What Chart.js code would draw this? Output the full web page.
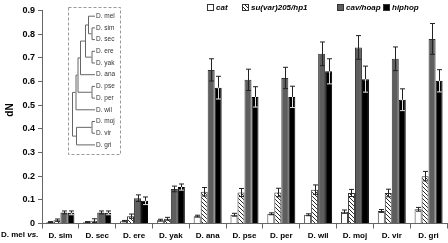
<!DOCTYPE html>
<html>
<head>
<meta charset="utf-8">
<script src="https://cdn.jsdelivr.net/npm/chart.js@4.4.1/dist/chart.umd.min.js"></script>
<style>
  html,body{margin:0;padding:0;background:#fff}
  #wrap{width:448px;height:243px;position:relative}
</style>
</head>
<body>
<div id="wrap"><canvas id="c" width="448" height="243"></canvas></div>
<script>
// dN por especie (comparación contra D. mel)
const species = ['D. sim','D. sec','D. ere','D. yak','D. ana','D. pse','D. per','D. wil','D. moj','D. vir','D. gri'];
const seriesNames = ['cat','su(var)205/hp1','cav/hoap','hiphop'];
const catVals    = [0.006,0.006,0.010,0.014,0.031,0.037,0.041,0.037,0.050,0.053,0.060];
const catErr     = [0.002,0.002,0.003,0.004,0.004,0.006,0.004,0.004,0.007,0.006,0.008];
const suvarVals  = [0.014,0.012,0.031,0.020,0.134,0.131,0.131,0.143,0.129,0.129,0.200];
const suvarErr   = [0.005,0.008,0.009,0.006,0.018,0.017,0.018,0.020,0.015,0.016,0.020];
const cavVals    = [0.047,0.047,0.107,0.146,0.649,0.607,0.615,0.717,0.744,0.696,0.780];
const cavErr     = [0.006,0.006,0.014,0.012,0.047,0.045,0.045,0.050,0.050,0.050,0.065];
const hiphopVals = [0.045,0.045,0.096,0.154,0.574,0.535,0.535,0.643,0.610,0.523,0.603];
const hiphopErr  = [0.008,0.008,0.016,0.013,0.048,0.043,0.045,0.053,0.055,0.046,0.047];
const yTicks = [0,0.1,0.2,0.3,0.4,0.5,0.6,0.7,0.8,0.9];

// árbol del recuadro: hojas en orden y nodos [hijoA, hijoB, profundidad]
const treeLeaves = ['D. mel','D. sim','D. sec','D. ere','D. yak','D. ana','D. pse','D. per','D. wil','D. moj','D. vir','D. gri'];
const tree = [[[[[[0,[1,2,19.5],16],[3,4,19.5],13],5,8],[6,7,19.5],5.5],8,3.5],[[9,10,19.5],11,4],0];

const FONT = "'Liberation Sans', Arial, sans-serif";
Chart.defaults.font.family = FONT;

const ctx = document.getElementById('c').getContext('2d');

function makeHatch(){
  const p = document.createElement('canvas'); p.width = 4; p.height = 4;
  const g = p.getContext('2d');
  g.fillStyle = '#fff'; g.fillRect(0,0,4,4);
  g.strokeStyle = '#111'; g.lineWidth = 0.9;
  g.beginPath();
  g.moveTo(0,0); g.lineTo(4,4);
  g.moveTo(-1,3); g.lineTo(1,5);
  g.moveTo(3,-1); g.lineTo(5,1);
  g.stroke();
  return ctx.createPattern(p,'repeat');
}
const hatch = makeHatch();

const errorBars = {
  id:'errorBars',
  afterDatasetsDraw(chart){
    const c = chart.ctx, y = chart.scales.y;
    chart.data.datasets.forEach((ds,i)=>{
      const meta = chart.getDatasetMeta(i);
      meta.data.forEach((bar,j)=>{
        const v = ds.data[j], e = ds.errors[j];
        const top = y.getPixelForValue(v+e), bot = y.getPixelForValue(v-e), mid = y.getPixelForValue(v);
        const x = Math.round(bar.x)+0.5, cap = 2.5;
        c.save();
        c.lineWidth = 1;
        c.strokeStyle = '#222';
        c.beginPath();
        c.moveTo(x,top); c.lineTo(x,bot);
        c.moveTo(x-cap,top); c.lineTo(x+cap,top);
        c.moveTo(x-cap,bot); c.lineTo(x+cap,bot);
        c.stroke();
        if(ds.lightErr){
          // dentro de la barra negra la barra de error se ve clara
          c.strokeStyle = '#ddd';
          c.beginPath();
          c.moveTo(x,mid); c.lineTo(x,bot);
          c.moveTo(x-cap,bot); c.lineTo(x+cap,bot);
          c.stroke();
        }
        c.restore();
      });
    });
  }
};

const extras = {
  id:'extras',
  afterDraw(chart){
    const c = chart.ctx;
    c.save();
    // título eje y
    c.fillStyle = '#000';
    c.font = "bold 10px " + FONT;
    c.translate(10,110); c.rotate(-Math.PI/2);
    c.textAlign = 'center'; c.textBaseline = 'middle';
    c.fillText('dN',0,0);
    c.restore();

    // "D. mel vs."
    c.save();
    c.fillStyle = '#000'; c.textBaseline = 'middle';
    c.font = "bold 8px " + FONT;
    c.fillText('D. mel ',1,235);
    const w = c.measureText('D. mel ').width;
    c.font = "italic bold 8px " + FONT;
    c.fillText('vs.',1+w,235);
    c.restore();

    // leyenda
    const fills = chart.data.datasets.map(d=>d.backgroundColor);
    const boxX = [207,242,337,383];
    c.save();
    c.font = "italic bold 8px " + FONT;
    c.textBaseline = 'middle';
    seriesNames.forEach((n,i)=>{
      c.fillStyle = fills[i];
      c.fillRect(boxX[i],4,6,6);
      c.strokeStyle = '#333'; c.lineWidth = 1;
      c.strokeRect(boxX[i]+0.5,4.5,6,6);
      c.fillStyle = '#000';
      c.fillText(n,boxX[i]+9,7.5);
    });
    c.restore();

    // recuadro con el árbol
    c.save();
    c.strokeStyle = '#999'; c.lineWidth = 1; c.setLineDash([3,2]);
    c.strokeRect(68.5,7.5,52,147);
    c.setLineDash([]);
    const leafY = i => 15.7 + i*11.7;
    const x0 = 72, tipX = 95;
    c.strokeStyle = '#666';
    function walk(n){
      if(typeof n === 'number') return {y:leafY(n), x:tipX};
      const a = walk(n[0]), b = walk(n[1]);
      const x = x0 + n[2];
      c.beginPath();
      c.moveTo(a.x,a.y+0.5); c.lineTo(x+0.5,a.y+0.5);
      c.lineTo(x+0.5,b.y+0.5); c.lineTo(b.x,b.y+0.5);
      c.stroke();
      return {y:(a.y+b.y)/2, x:x};
    }
    walk(tree);
    c.fillStyle = '#333';
    c.font = "6.5px " + FONT;
    c.textBaseline = 'middle';
    treeLeaves.forEach((s,i)=>c.fillText(s,tipX+1,leafY(i)+0.5));
    c.restore();
  }
};

new Chart(ctx,{
  type:'bar',
  data:{
    labels:species,
    datasets:[
      {label:seriesNames[0], data:catVals, errors:catErr, backgroundColor:'#fff', borderColor:'#333', borderWidth:1},
      {label:seriesNames[1], data:suvarVals, errors:suvarErr, backgroundColor:hatch, borderColor:'#333', borderWidth:1},
      {label:seriesNames[2], data:cavVals, errors:cavErr, backgroundColor:'#5e5e5e', borderColor:'#333', borderWidth:1},
      {label:seriesNames[3], data:hiphopVals, errors:hiphopErr, lightErr:true, backgroundColor:'#000', borderColor:'#000', borderWidth:1}
    ]
  },
  options:{
    responsive:false, animation:false, devicePixelRatio:1,
    layout:{padding:{top:10.5, right:1, left:0, bottom:0}},
    plugins:{legend:{display:false}, tooltip:{enabled:false}},
    datasets:{bar:{categoryPercentage:0.76, barPercentage:1}},
    scales:{
      x:{
        grid:{display:true, drawOnChartArea:false, offset:true, tickLength:5, color:'#666'},
        border:{color:'#666'},
        ticks:{font:{size:8, weight:'bold'}, color:'#000', padding:2, maxRotation:0, autoSkip:false},
        afterFit(s){ s.height = 19.5; }
      },
      y:{
        min:0, max:0.9,
        afterBuildTicks(s){ s.ticks = yTicks.map(v=>({value:v})); },
        ticks:{font:{size:9, weight:'bold'}, color:'#000', padding:3, callback:v=>v===0?'0':v.toFixed(1)},
        grid:{drawOnChartArea:false, tickLength:4, color:'#666'},
        border:{color:'#666'},
        afterFit(s){ s.width = 42; }
      }
    }
  },
  plugins:[errorBars, extras]
});
</script>
</body>
</html>
